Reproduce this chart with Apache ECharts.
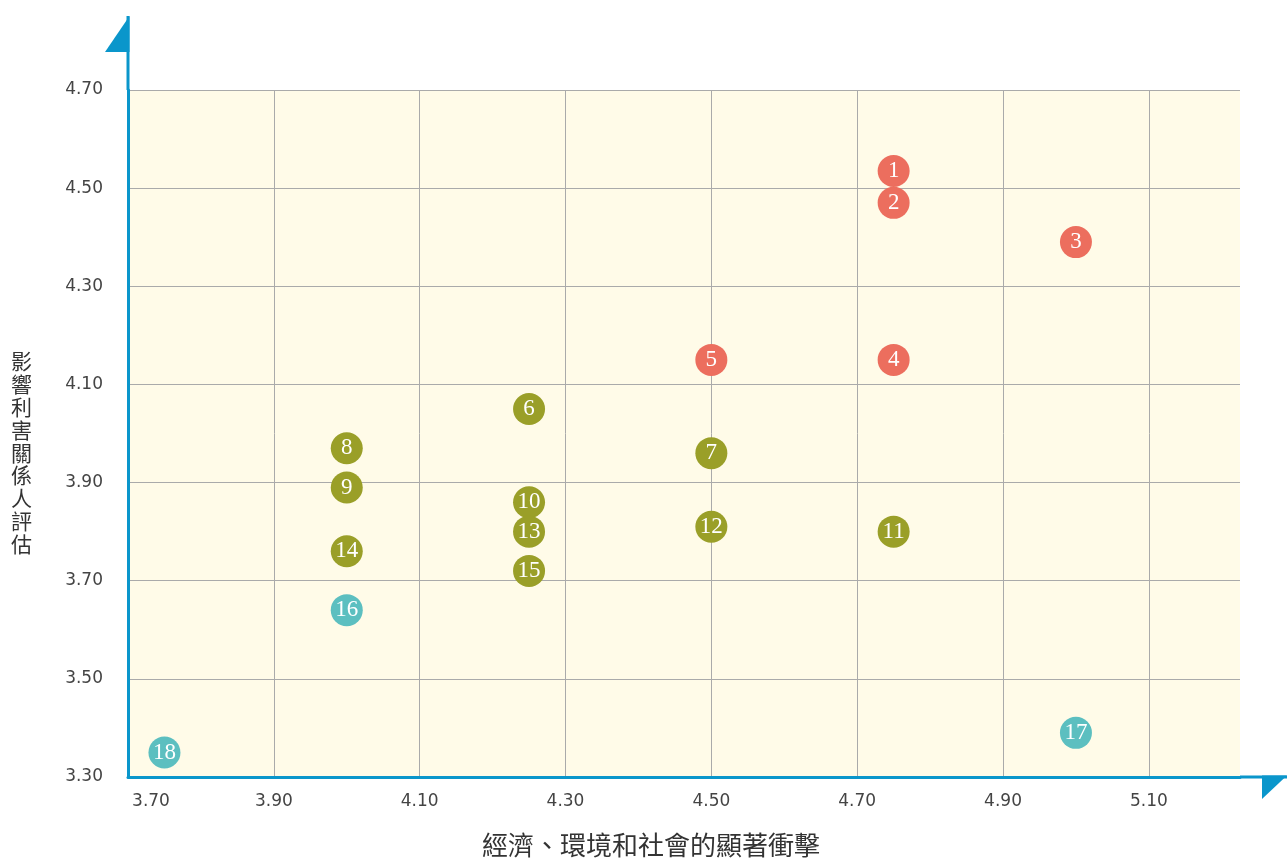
<!DOCTYPE html>
<html>
<head>
<meta charset="UTF-8">
<title>重大性矩陣</title>
<script src="https://cdn.jsdelivr.net/npm/echarts@6/dist/echarts.min.js"></script>
<style>
html,body{margin:0;padding:0;background:#fff;}
#main{width:1287px;height:858px;}
</style>
</head>
<body>
<div id="main"></div>
<script type="text/javascript">
// 議題編號
var topics=['1','2','3','4','5','6','7','8','9','10','11','12','13','14','15','16','17','18'];
// 經濟、環境和社會的顯著衝擊 (x)
var impact=[4.75,4.75,5.00,4.75,4.50,4.25,4.50,4.00,4.00,4.25,4.75,4.50,4.25,4.00,4.25,4.00,5.00,3.75];
// 影響利害關係人評估 (y)
var stakeholder=[4.535,4.47,4.39,4.15,4.15,4.05,3.96,3.97,3.89,3.86,3.80,3.81,3.80,3.76,3.72,3.64,3.39,3.35];
// 分組: 0 高, 1 中, 2 低
var level=[0,0,0,0,0,1,1,1,1,1,1,1,1,1,1,2,2,2];
var levelColors=['#ec6e5e','#9a9f28','#5cbfc0'];

var xTitle='經濟、環境和社會的顯著衝擊';
var yTitle='影響利害關係人評估';
var blue='#0a96cb';

var seriesList=[];
for(var g=0;g<levelColors.length;g++){
	var pts=[];
	for(var i=0;i<topics.length;i++){
		if(level[i]==g){
			pts.push({name:topics[i],value:[impact[i],stakeholder[i]]});
		}
	}
	seriesList.push({
		type:'scatter',
		symbolSize:32,
		itemStyle:{color:levelColors[g],opacity:1},
		label:{
			show:true,
			position:'inside',
			formatter:'{b}',
			color:'#fff',
			fontFamily:'Liberation Serif',
			fontSize:23
		},
		data:pts
	});
}

var myChart=echarts.init(document.getElementById('main'));
var option={
	animation:false,
	grid:{
		left:128,
		right:47,
		top:90,
		bottom:81,
		outerBoundsMode:'none',
		containLabel:false,
		show:true,
		backgroundColor:'#fffbe8',
		borderWidth:0
	},
	xAxis:{
		type:'value',
		min:3.7,
		max:5.225,
		interval:0.2,
		name:xTitle,
		nameLocation:'middle',
		nameGap:55,
		nameTextStyle:{
			fontFamily:'Noto Sans CJK TC',
			fontSize:26,
			color:'#333',
			padding:[0,66,0,0]
		},
		axisLine:{show:true,lineStyle:{color:blue,width:3}},
		axisTick:{show:false},
		axisLabel:{
			margin:16,
			showMaxLabel:false,
			fontFamily:'DejaVu Sans',
			fontSize:17,
			color:'#444',
			formatter:function(v,i){
				var s=v.toFixed(2);
				return i===0?'{first|'+s+'}':s;
			},
			rich:{first:{padding:[0,0,0,46],fontFamily:'DejaVu Sans',fontSize:17,color:'#444'}}
		},
		splitLine:{show:true,showMinLine:false,showMaxLine:false,lineStyle:{color:'#aaa',width:1}}
	},
	yAxis:{
		type:'value',
		min:3.3,
		max:4.7,
		interval:0.2,
		axisLine:{show:true,lineStyle:{color:blue,width:3}},
		axisTick:{show:false},
		axisLabel:{
			margin:25,
			fontFamily:'DejaVu Sans',
			fontSize:17,
			color:'#444',
			formatter:function(v){return v.toFixed(2);}
		},
		splitLine:{show:true,showMinLine:false,lineStyle:{color:'#aaa',width:1}}
	},
	series:seriesList
};
myChart.setOption(option);

// 座標軸延伸、箭頭與縱軸標題
var x0=myChart.convertToPixel({xAxisIndex:0},3.7);
var y0=myChart.convertToPixel({yAxisIndex:0},3.3);
var yTop=myChart.convertToPixel({yAxisIndex:0},4.7);
var xEnd=myChart.convertToPixel({xAxisIndex:0},5.225);
myChart.setOption({
	graphic:[
		{type:'line',shape:{x1:x0,y1:yTop,x2:x0,y2:16},style:{stroke:blue,lineWidth:3},z:10},
		{type:'polygon',shape:{points:[[x0+1.5,16],[x0+1.5,52],[x0-23,52]]},style:{fill:blue},z:10},
		{type:'line',shape:{x1:xEnd,y1:y0,x2:1287,y2:y0},style:{stroke:blue,lineWidth:3},z:10},
		{type:'polygon',shape:{points:[[1262,y0-1.5],[1287,y0-1.5],[1262,y0+22]]},style:{fill:blue},z:10},
		{
			type:'text',
			left:11,
			top:350,
			style:{
				text:yTitle.split('').join('\n'),
				fontFamily:'Noto Sans CJK TC',
				fontSize:21,
				lineHeight:22.8,
				fill:'#333',
				align:'center'
			}
		}
	]
});
</script>
</body>
</html>
